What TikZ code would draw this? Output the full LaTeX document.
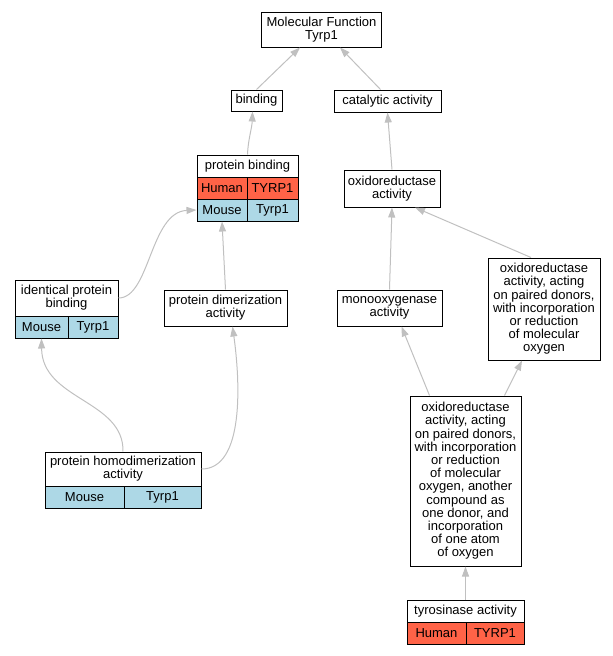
\documentclass[tikz,border=0pt]{standalone}
\usepackage{fontspec}
\setmainfont{Liberation Sans}
\usetikzlibrary{arrows.meta}
\definecolor{humanred}{HTML}{FF6347}
\definecolor{mouseblue}{HTML}{ADD8E6}
\definecolor{edgegray}{HTML}{C0C0C0}
\tikzset{
  term/.style={draw, fill=white, line width=1pt, inner sep=0pt, align=center, font=\fontsize{13}{13.2}\selectfont},
  human/.style={term, fill=humanred},
  mouse/.style={term, fill=mouseblue},
  isa/.style={draw=edgegray, line width=1pt, -{Triangle[length=10pt,width=7pt]}}
}

\begin{document}
\begin{tikzpicture}[x=1pt, y=-1pt]
\useasboundingbox (0,0) rectangle (613,656);
\node[term, minimum width=120pt, minimum height=35pt] (mf) at (321.5,29.5) {Molecular Function\\Tyrp1};
\node[term, minimum width=51pt, minimum height=21pt] (binding) at (256.5,100.5) {binding};
\node[term, minimum width=107pt, minimum height=22pt] (catalytic) at (387.5,101) {catalytic activity};
\node[term, minimum width=101pt, minimum height=22pt] (pb) at (247.5,166) {protein binding};
\node[human, minimum width=50pt, minimum height=22pt] (pbh) at (222,188) {Human};
\node[human, minimum width=51pt, minimum height=22pt] (pbhg) at (272.5,188) {TYRP1};
\node[mouse, minimum width=50pt, minimum height=22pt] (pbm) at (222,210) {Mouse};
\node[mouse, minimum width=51pt, minimum height=22pt] (pbmg) at (272.5,210) {Tyrp1};
\node[term, minimum width=96pt, minimum height=37pt] (oxido) at (392,188.5) {oxidoreductase\\activity};
\node[term, minimum width=103pt, minimum height=36pt] (ipb) at (66.5,298) {identical protein\\binding};
\node[mouse, minimum width=53pt, minimum height=22pt] (ipbm) at (41.5,327) {Mouse};
\node[mouse, minimum width=50pt, minimum height=22pt] (ipbmg) at (93,327) {Tyrp1};
\node[term, minimum width=123pt, minimum height=36pt] (pdim) at (225.5,308) {protein dimerization\\activity};
\node[term, minimum width=105pt, minimum height=36pt] (mono) at (389.5,308) {monooxygenase\\activity};
\node[term, minimum width=112pt, minimum height=102pt] (oxmol) at (544,309) {oxidoreductase\\activity, acting\\on paired donors,\\with incorporation\\or reduction\\of molecular\\oxygen};
\node[term, minimum width=156pt, minimum height=34pt] (phd) at (123,469) {protein homodimerization\\activity};
\node[mouse, minimum width=79pt, minimum height=22pt] (phdm) at (84.5,497) {Mouse};
\node[mouse, minimum width=77pt, minimum height=22pt] (phdmg) at (162.5,497) {Tyrp1};
\node[term, minimum width=111pt, minimum height=170pt] (oxone) at (465.5,481) {oxidoreductase\\activity, acting\\on paired donors,\\with incorporation\\or reduction\\of molecular\\oxygen, another\\compound as\\one donor, and\\incorporation\\of one atom\\of oxygen};
\node[term, minimum width=117pt, minimum height=22pt] (tyr) at (465.5,611) {tyrosinase activity};
\node[human, minimum width=59pt, minimum height=22pt] (tyrh) at (436.5,633) {Human};
\node[human, minimum width=58pt, minimum height=22pt] (tyrhg) at (495,633) {TYRP1};

\draw[isa] (binding.north) -- ([xshift=-21.5pt]mf.south);
\draw[isa] ([xshift=-7pt]catalytic.north) -- ([xshift=18.5pt]mf.south);
\draw[isa] (pb.north) .. controls (248,140) and (252,128) .. ([xshift=-4pt]binding.south);
\draw[isa] (oxido.north) -- (catalytic.south);
\draw[isa] (ipb.east) .. controls (150,298) and (150,212) .. (pbm.west);
\draw[isa] (pdim.north) -- (pbm.south);
\draw[isa] (mono.north) -- (oxido.south);
\draw[isa] ([xshift=-13pt]oxmol.north) -- ([xshift=23pt]oxido.south);
\draw[isa] (phd.north) .. controls (124,400) and (42,400) .. (ipbm.south);
\draw[isa] (phd.east) .. controls (245,469) and (240,380) .. ([xshift=7pt]pdim.south);
\draw[isa] ([xshift=-36pt]oxone.north) -- ([xshift=12pt]mono.south);
\draw[isa] ([xshift=39pt]oxone.north) -- ([xshift=-22pt]oxmol.south);
\draw[isa] (tyr.north) -- (oxone.south);
\end{tikzpicture}
\end{document}
